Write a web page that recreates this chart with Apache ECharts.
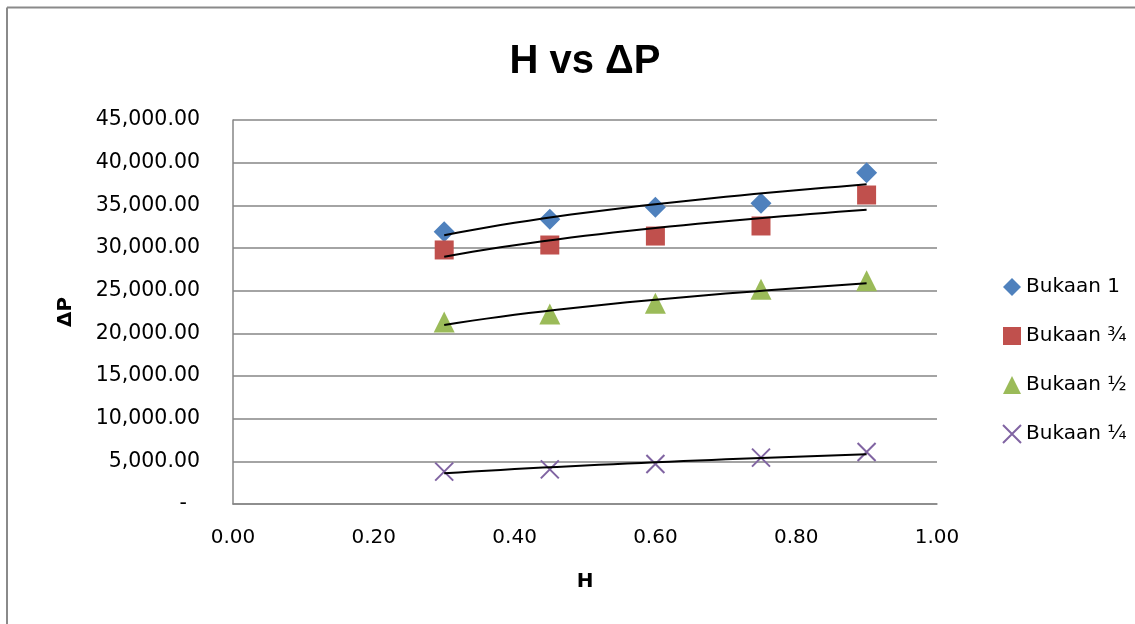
<!DOCTYPE html>
<html>
<head>
<meta charset="utf-8">
<script src="https://cdn.jsdelivr.net/npm/echarts@6/dist/echarts.min.js"></script>
<style>
html,body{margin:0;padding:0;background:#fff;}
#chart{width:1135px;height:624px;}
</style>
</head>
<body>
<div id="chart"></div>
<script>
// ---- data ----
const hValues = [0.30, 0.45, 0.60, 0.75, 0.90];
const seriesNames = ['Bukaan 1', 'Bukaan ¾', 'Bukaan ½', 'Bukaan ¼'];
const bukaan1 = [31900, 33360, 34770, 35240, 38820];
const bukaan34 = [29770, 30350, 31400, 32580, 36210];
const bukaan12 = [21330, 22270, 23520, 25180, 26150];
const bukaan14 = [3790, 4060, 4690, 5430, 6090];
const xTicks = [0, 0.2, 0.4, 0.6, 0.8, 1.0];
const yTicks = [0, 5000, 10000, 15000, 20000, 25000, 30000, 35000, 40000, 45000];

const colors = ['#4F81BD', '#C0504D', '#9BBB59', '#8064A2'];
const symbols = ['diamond', 'rect', 'triangle', 'path://M0,0L20,20M20,0L0,20'];
const allData = [bukaan1, bukaan34, bukaan12, bukaan14];

// power trendline fitted from data (least squares on ln-ln)
function powerFit(xs, ys) {
  const n = xs.length;
  let sx = 0, sy = 0, sxx = 0, sxy = 0;
  for (let i = 0; i < n; i++) {
    const lx = Math.log(xs[i]), ly = Math.log(ys[i]);
    sx += lx; sy += ly; sxx += lx * lx; sxy += lx * ly;
  }
  const b = (n * sxy - sx * sy) / (n * sxx - sx * sx);
  const a = Math.exp((sy - b * sx) / n);
  const pts = [];
  const x0 = xs[0], x1 = xs[n - 1];
  for (let k = 0; k <= 30; k++) {
    const x = x0 + (x1 - x0) * k / 30;
    pts.push([x, a * Math.pow(x, b)]);
  }
  return pts;
}

const series = [];
allData.forEach((vals, i) => {
  series.push({
    name: seriesNames[i],
    type: 'scatter',
    symbol: symbols[i],
    symbolSize: i === 3 ? 18 : (i === 1 ? 19 : 21),
    itemStyle: i === 3
      ? { color: 'rgba(0,0,0,0)', borderColor: colors[i], borderWidth: 2, opacity: 1 }
      : { color: colors[i], opacity: 1 },
    data: hValues.map((h, j) => [h, vals[j]]),
    z: 2
  });
});
allData.forEach((vals, i) => {
  series.push({
    name: seriesNames[i] + ' trend',
    type: 'line',
    showSymbol: false,
    smooth: false,
    silent: true,
    lineStyle: { color: '#000', width: 2 },
    data: powerFit(hValues, vals),
    z: 3
  });
});

const chart = echarts.init(document.getElementById('chart'));
chart.setOption({
  animation: false,
  backgroundColor: '#fff',
  graphic: [{
    type: 'line',
    shape: { x1: 7, y1: 7.5, x2: 1140, y2: 7.5 },
    style: { stroke: '#8a8a8a', lineWidth: 2 }
  }, {
    type: 'line',
    shape: { x1: 7, y1: 7.5, x2: 7, y2: 630 },
    style: { stroke: '#8a8a8a', lineWidth: 2 }
  }, {
    type: 'text',
    x: 585, y: 42,
    style: { text: 'H vs ΔP', font: 'bold 40px "Liberation Sans"', fill: '#000', textAlign: 'center', textVerticalAlign: 'top' }
  }],
  grid: { left: 233, right: 198, top: 120, bottom: 120 },
  legend: {
    data: seriesNames,
    orient: 'vertical',
    left: 1002,
    top: 277,
    padding: 0,
    itemWidth: 18,
    itemHeight: 18,
    itemGap: 29,
    textStyle: { fontFamily: 'DejaVu Sans', fontSize: 20, color: '#000' }
  },
  xAxis: {
    type: 'value',
    min: 0, max: 1, interval: 0.2,
    name: 'H',
    nameLocation: 'middle',
    nameGap: 68,
    nameTextStyle: { fontFamily: 'DejaVu Sans', fontWeight: 'bold', fontSize: 20, color: '#000' },
    axisLine: { show: true, lineStyle: { color: '#868686', width: 1.5 } },
    axisTick: { show: false },
    splitLine: { show: false },
    axisLabel: {
      margin: 24,
      fontFamily: 'DejaVu Sans', fontSize: 20, color: '#000',
      formatter: v => v.toFixed(2)
    }
  },
  yAxis: {
    type: 'value',
    min: 0, max: 45000, interval: 5000,
    name: 'ΔP',
    nameLocation: 'middle',
    nameGap: 157,
    nameRotate: 90,
    nameTextStyle: { fontFamily: 'DejaVu Sans', fontWeight: 'bold', fontSize: 20, color: '#000' },
    axisLine: { show: true, lineStyle: { color: '#868686', width: 1.5 } },
    axisTick: { show: false },
    splitLine: { lineStyle: { color: '#868686', width: 1.5 } },
    axisLabel: {
      margin: 33,
      fontFamily: 'DejaVu Sans', fontSize: 20.5, color: '#000',
      formatter: v => v === 0 ? '-  ' : v.toLocaleString('en-US', { minimumFractionDigits: 2, maximumFractionDigits: 2 })
    }
  },
  series: series
});
</script>
</body>
</html>
